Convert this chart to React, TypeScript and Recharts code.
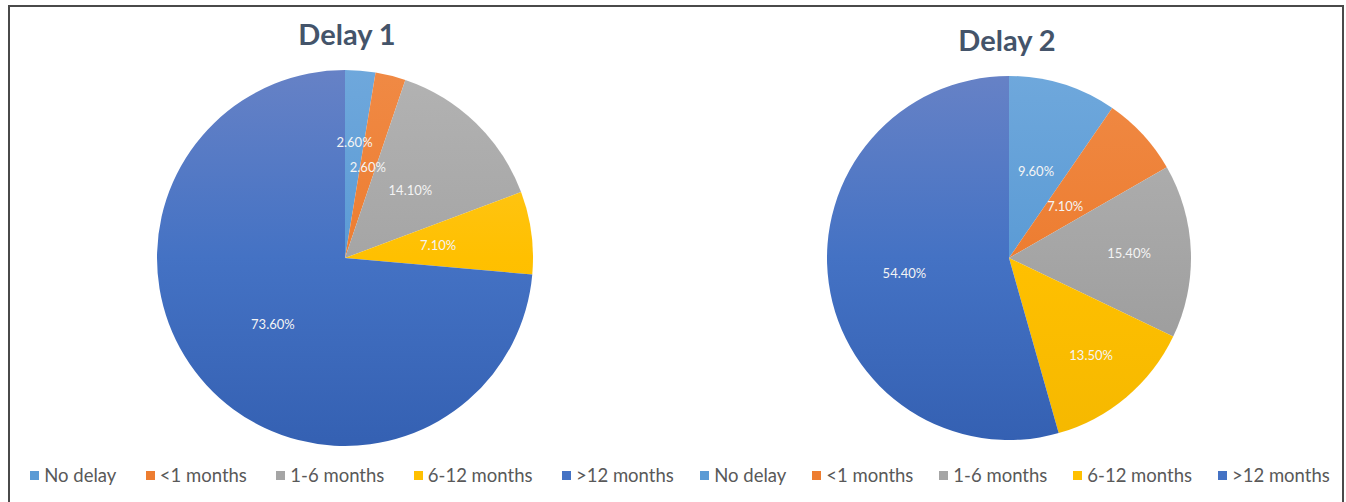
import React from "react"
import { PieChart, Pie, Cell, Legend } from "recharts"

const categories = ["No delay", "<1 months", "1-6 months", "6-12 months", ">12 months"]
const delay1Values = [2.6, 2.6, 14.1, 7.1, 73.6]
const delay2Values = [9.6, 7.1, 15.4, 13.5, 54.4]

const COLORS = ["#5B9BD5", "#ED7D31", "#A5A5A5", "#FFC000", "#4472C4"]
const LIGHT = ["#6FA8DC", "#F08A45", "#B3B3B3", "#FFCA30", "#6782C6"]
const DARK = ["#4A8BCB", "#E46E22", "#959595", "#F5B800", "#3460B2"]

// label distance from centre, as a share of the radius (like Excel's best fit)
const labelPos1 = [0.62, 0.5, 0.5, 0.5, 0.52]
const labelPos2 = [0.5, 0.42, 0.66, 0.7, 0.58]

const RAD = Math.PI / 180

const makeLabel = (pos: number[]) => (props: any) => {
  const { cx, cy, midAngle, outerRadius, index, value } = props
  const r = outerRadius * pos[index]
  const x = cx + r * Math.cos(-midAngle * RAD)
  const y = cy + r * Math.sin(-midAngle * RAD)
  return (
    <text x={x} y={y} fill="#f4f4f4" fontSize={13} fontFamily="Lato" textAnchor="middle" dominantBaseline="central">
      {`${value.toFixed(2)}%`}
    </text>
  )
}

const LegendRow = ({ gap }: { gap: number }) => (
  <div style={{ display: "flex", justifyContent: "center", gap, fontFamily: "Lato", fontSize: 18.5, color: "#595959" }}>
    {categories.map((c, i) => (
      <div key={c} style={{ display: "flex", alignItems: "center", gap: 5 }}>
        <span style={{ width: 9, height: 9, background: COLORS[i], display: "inline-block" }} />
        <span>{c}</span>
      </div>
    ))}
  </div>
)

function DelayPie({ id, title, values, width, cx, cy, r, pos, titleTop, titleX, gap, legendShift }: any) {
  const data = categories.map((name, i) => ({ name, value: values[i] }))
  return (
    <div style={{ position: "relative", width, height: 490 }}>
      <div
        style={{
          position: "absolute",
          top: titleTop,
          left: titleX - 100,
          width: 200,
          textAlign: "center",
          fontFamily: "Lato",
          fontWeight: 700,
          fontSize: 29,
          color: "#44546A",
          zIndex: 2,
        }}
      >
        {title}
      </div>
      <PieChart width={width} height={490}>
        <defs>
          {COLORS.map((c, i) => (
            <linearGradient key={c} id={`${id}-g${i}`} gradientUnits="userSpaceOnUse" x1={0} y1={cy - r} x2={0} y2={cy + r + 10}>
              <stop offset="0%" stopColor={LIGHT[i]} />
              <stop offset="50%" stopColor={COLORS[i]} />
              <stop offset="100%" stopColor={DARK[i]} />
            </linearGradient>
          ))}
        </defs>
        <Pie
          data={data}
          dataKey="value"
          nameKey="name"
          cx={cx}
          cy={cy}
          outerRadius={r}
          startAngle={90}
          endAngle={-270}
          stroke="none"
          label={makeLabel(pos)}
          labelLine={false}
          isAnimationActive={false}
        >
          {data.map((entry, index) => (
            <Cell key={`cell-${index}`} fill={`url(#${id}-g${index})`} />
          ))}
        </Pie>
        <Legend content={<LegendRow gap={gap} />} wrapperStyle={{ top: 456, left: legendShift, width }} />
      </PieChart>
    </div>
  )
}

export default function App() {
  return (
    <div style={{ position: "relative", width: 1336, height: 494, background: "#fff" }}>
      <div style={{ position: "absolute", left: 0, top: 0, display: "flex" }}>
        <DelayPie id="d1" title="Delay 1" values={delay1Values} width={680} cx={332} cy={245} r={188} pos={labelPos1} titleTop={8} titleX={339} gap={29.5} legendShift={4} />
        <DelayPie id="d2" title="Delay 2" values={delay2Values} width={654} cx={316} cy={245} r={182} pos={labelPos2} titleTop={14} titleX={319} gap={26} legendShift={0} />
      </div>
      {/* frame round the figure; the bottom edge falls below the page */}
      <div style={{ position: "fixed", left: 8, top: 5, width: 1336, height: 2, background: "#4a4a4a" }} />
      <div style={{ position: "fixed", left: 1342, top: 5, width: 2, height: 520, background: "#4a4a4a" }} />
      <div style={{ position: "fixed", left: 8, top: 5, width: 2, height: 520, background: "#4a4a4a" }} />
    </div>
  )
}
